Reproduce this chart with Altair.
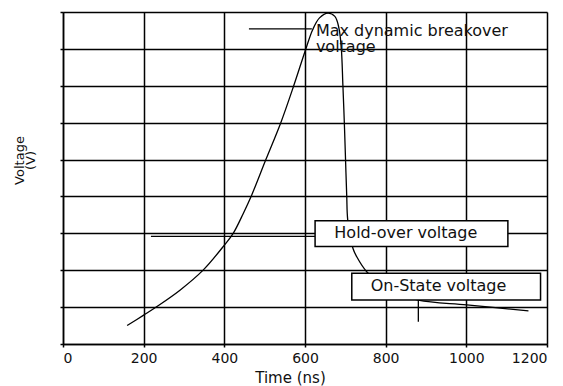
import altair as alt
import pandas as pd

# Curve (time in ns, voltage in grid units 0..9)
curve_t = [159, 201, 232, 290, 348, 400, 422, 447, 468, 503, 540, 572, 600, 619,
           636, 657, 674, 684, 690, 694, 697.5, 700.5, 703.5, 706, 719, 728, 753, 810, 881, 1001, 1154]
curve_v = [0.50, 0.79, 1.01, 1.46, 2.01, 2.68, 3.00, 3.54, 4.04, 5.00, 6.00, 7.00, 7.93, 8.52,
           8.84, 8.97, 8.88, 8.57, 8.02, 7.00, 6.00, 5.00, 4.00, 3.36, 2.59, 2.37, 1.96, 1.45, 1.19, 1.06, 0.90]

x_ticks = [0, 200, 400, 600, 800, 1000, 1200]
y_ticks = [0, 1, 2, 3, 4, 5, 6, 7, 8, 9]

# Leader lines: x, x2, y, y2
seg_x = [625, 461, 881]
seg_x2 = [218, 617, 881]
seg_y = [2.92, 8.54, 1.19]
seg_y2 = [2.92, 8.54, 0.60]

# Label boxes
box_x = [625, 716]
box_x2 = [1103, 1184]
box_y = [3.34, 1.92]
box_y2 = [2.64, 1.19]

# Box labels (centered)
box_label = ["Hold-over voltage", "On-State voltage"]
box_label_x = [850, 931]
box_label_y = [3.02, 1.58]

# Free label (left aligned, two lines)
free_label = ["Max dynamic breakover", "voltage"]
free_label_x = [627, 627]
free_label_y = [8.35, 7.92]

FONT = "DejaVu Sans"

xscale = alt.Scale(domain=[0, 1200], nice=False, zero=False)
yscale = alt.Scale(domain=[0, 9], nice=False, zero=False)

xaxis = alt.Axis(values=x_ticks, format="d", grid=True, gridColor="black", gridWidth=1.5, gridOpacity=1,
                 domainColor="black", domainWidth=1.5, tickColor="black", tickSize=3, tickWidth=1.5,
                 labelFont=FONT, labelFontSize=14, labelColor="#111", labelPadding=4,
                 title="Time (ns)", titleFont=FONT, titleFontSize=15, titleFontWeight="normal",
                 titleColor="#111", titleX=227, titleY=38, titleAnchor="start", titleAlign="center",
                 titleBaseline="alphabetic")
yaxis = alt.Axis(values=y_ticks, grid=True, gridColor="black", gridWidth=1.5, gridOpacity=1,
                 domainColor="black", domainWidth=1.5, tickColor="black", tickSize=3, tickWidth=1.5,
                 labels=False,
                 title=["Voltage", "(V)"], titleFont=FONT, titleFontSize=13, titleFontWeight="normal",
                 titleColor="#111", titleX=-44, titleY=148, titleAngle=270, titleAlign="center",
                 titleBaseline="middle", titleLineHeight=11)

def X(field):
    return alt.X(field, type="quantitative", scale=xscale, axis=xaxis)

def Y(field):
    return alt.Y(field, type="quantitative", scale=yscale, axis=yaxis)

curve_df = pd.DataFrame({"t": curve_t, "v": curve_v, "o": list(range(len(curve_t)))})
seg_df = pd.DataFrame({"x": seg_x, "x2": seg_x2, "y": seg_y, "y2": seg_y2})
box_df = pd.DataFrame({"x": box_x, "x2": box_x2, "y": box_y, "y2": box_y2})
blab_df = pd.DataFrame({"x": box_label_x, "y": box_label_y, "t": box_label})
flab_df = pd.DataFrame({"x": free_label_x, "y": free_label_y, "t": free_label})

curve = alt.Chart(curve_df).mark_line(color="black", strokeWidth=1.3, interpolate="catmull-rom").encode(
    x=X("t"), y=Y("v"), order="o:Q")

segs = alt.Chart(seg_df).mark_rule(color="black", strokeWidth=1.3).encode(
    x=X("x"), x2="x2", y=Y("y"), y2="y2")

boxes = alt.Chart(box_df).mark_rect(fill="white", stroke="black", strokeWidth=1.5).encode(
    x=X("x"), x2="x2", y=Y("y"), y2="y2")

blabs = alt.Chart(blab_df).mark_text(font=FONT, fontSize=16, color="#111", align="center",
                                     baseline="middle").encode(x=X("x"), y=Y("y"), text="t")

flabs = alt.Chart(flab_df).mark_text(font=FONT, fontSize=16, color="#111", align="left",
                                     baseline="alphabetic").encode(x=X("x"), y=Y("y"), text="t")

chart = alt.layer(curve, segs, boxes, blabs, flabs).properties(
    width=484, height=332,
    autosize=alt.AutoSizeParams(type="none"),
    padding={"left": 55, "top": 4, "right": 8, "bottom": 44},
).configure_view(stroke="black", strokeWidth=1.5).configure(background="white")

chart.save("out.html", embed_options={"renderer": "svg", "actions": False})
